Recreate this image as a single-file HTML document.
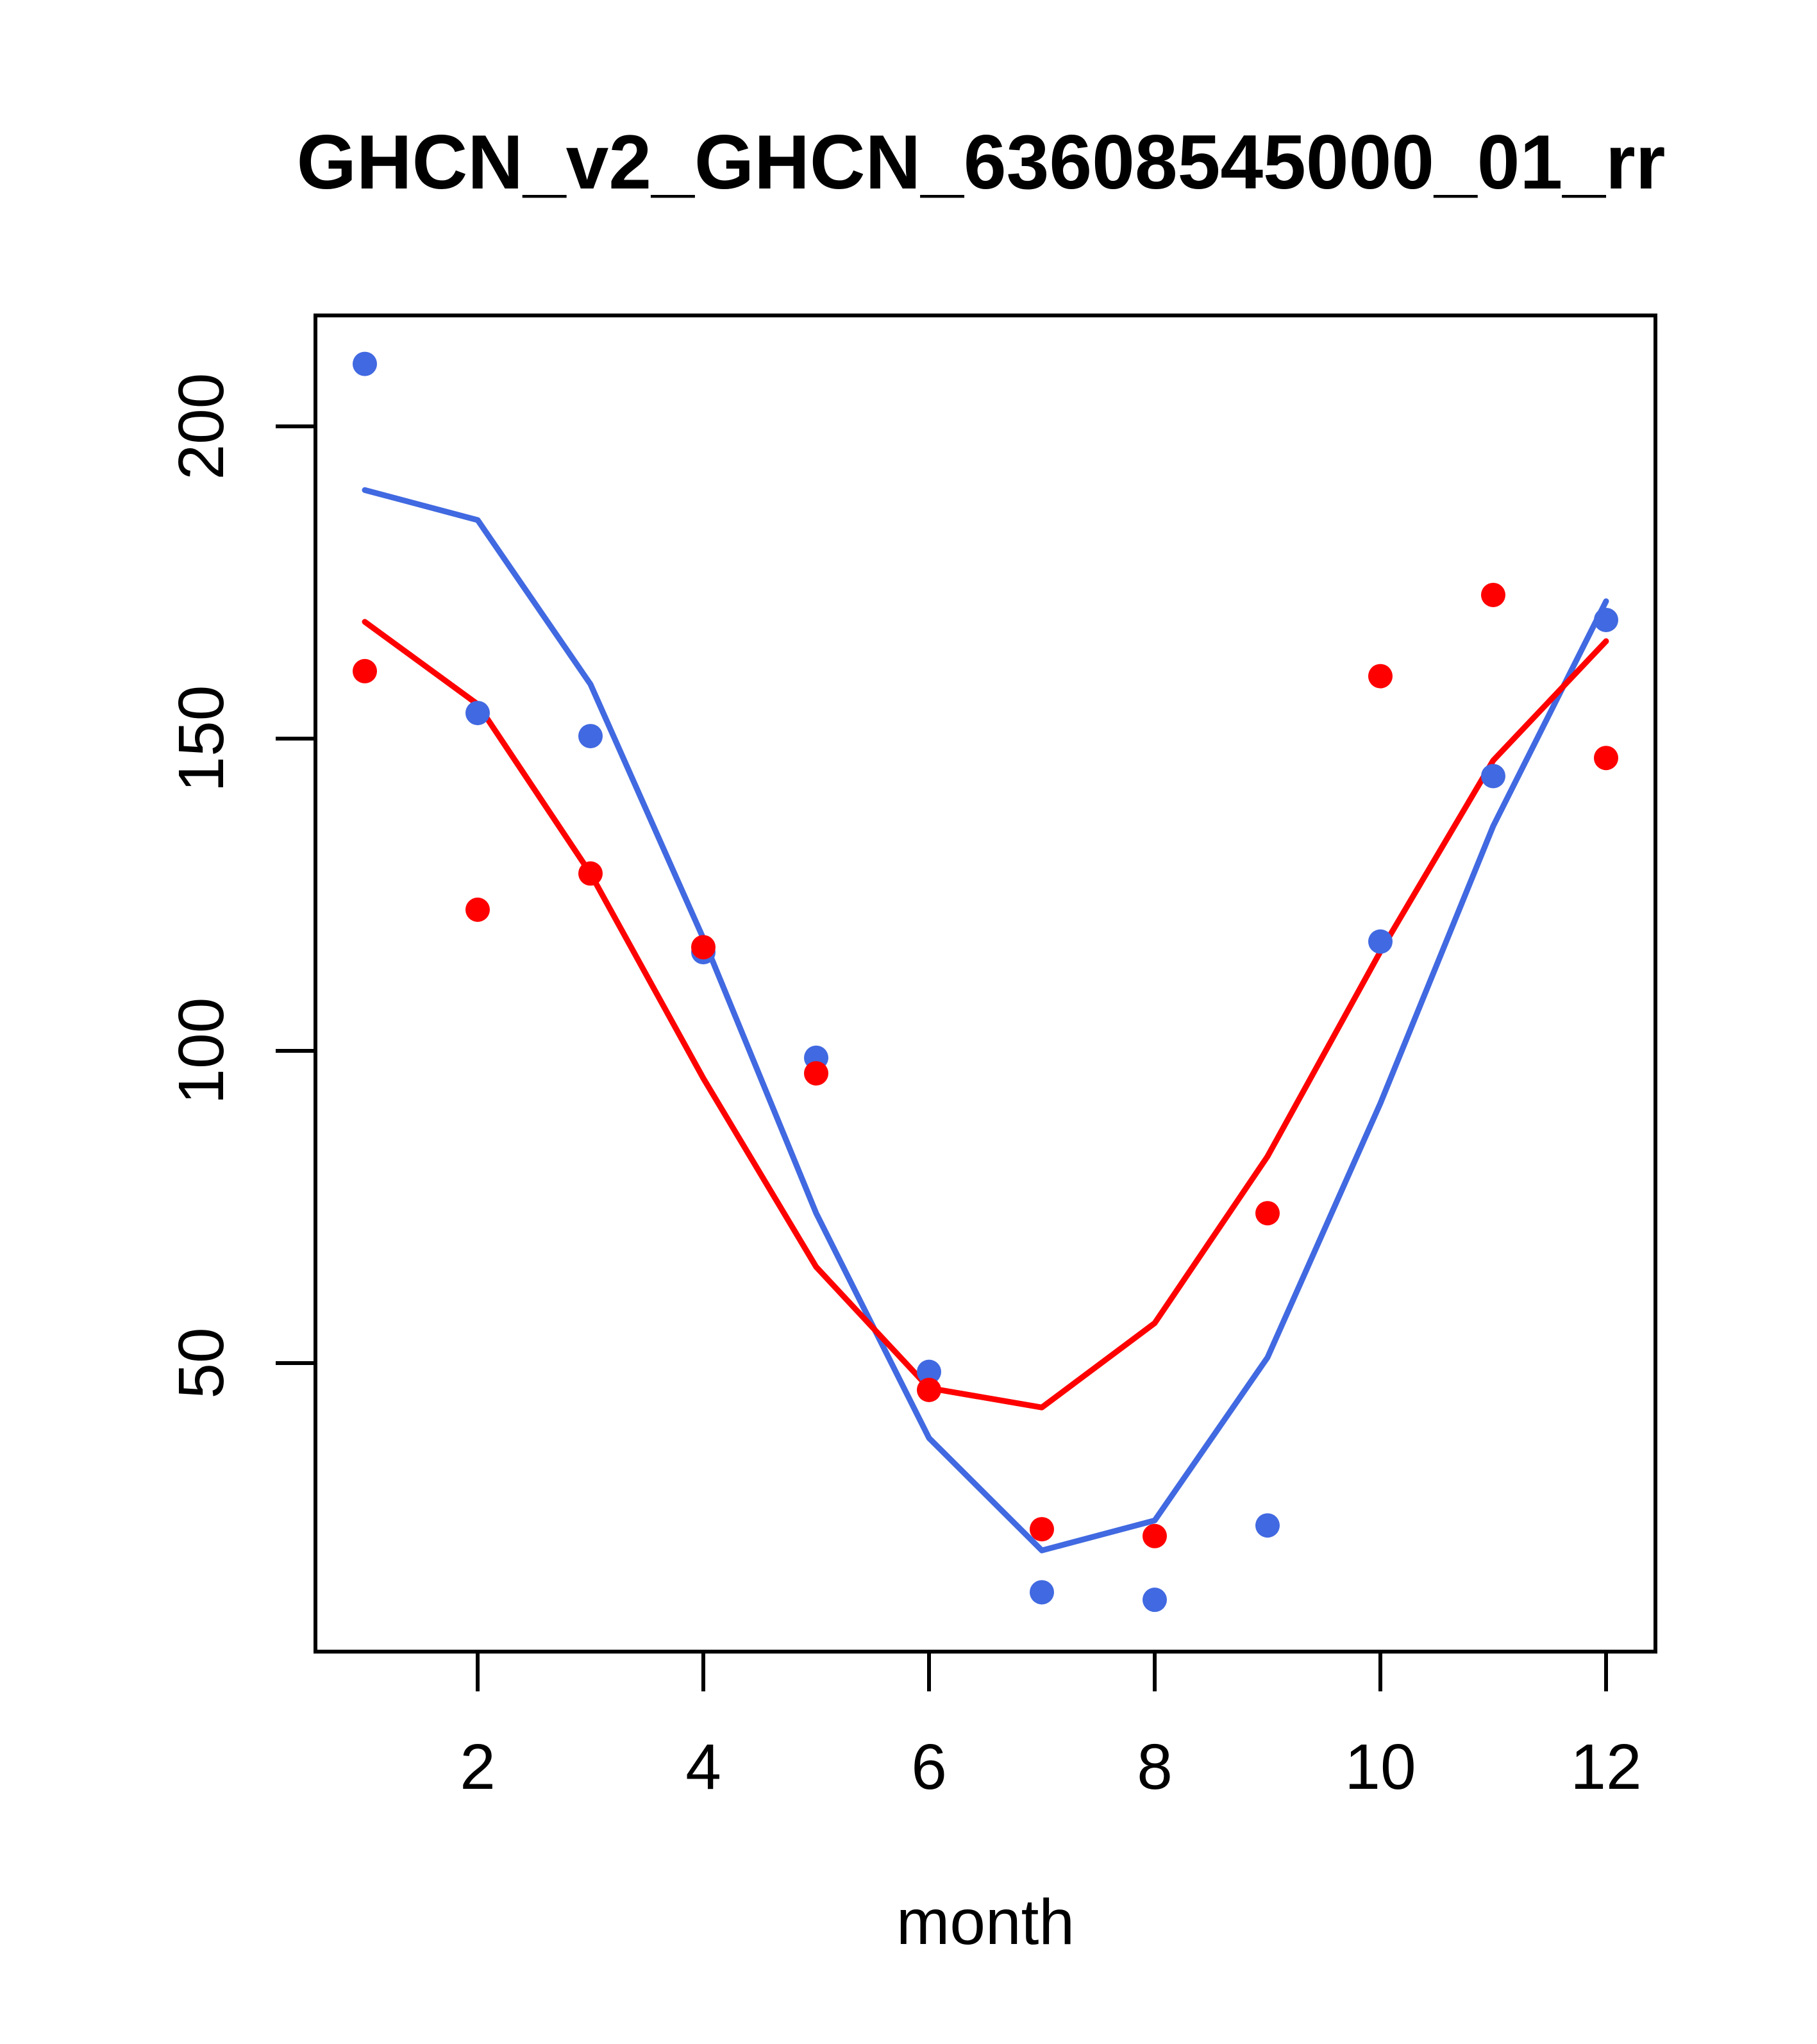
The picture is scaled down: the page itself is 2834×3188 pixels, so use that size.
<!DOCTYPE html>
<html><head><meta charset="utf-8"><style>body{margin:0;background:#fff}svg{display:block}text{font-family:"Liberation Sans",sans-serif}</style></head>
<body>
<svg width="2834" height="3188" viewBox="0 0 2834 3188">
<text x="1530" y="294" font-size="120" font-weight="bold" text-anchor="middle">GHCN_v2_GHCN_63608545000_01_rr</text>
<rect x="492" y="492" width="2090" height="2084" fill="none" stroke="#000" stroke-width="6"/>
<g id="xaxis"></g>
<g id="yaxis"></g>
<text x="1537" y="3032" font-size="100" text-anchor="middle">month</text>
<g id="marks"></g>
</svg>
<script>
const months=[1,2,3,4,5,6,7,8,9,10,11,12];
const bluePoints=[210,154.1,150.4,115.8,98.9,48.6,13.3,12.1,24,117.5,144,169];
const redPoints=[160.8,122.6,128.4,116.6,96.4,45.7,23.4,22.3,74,160,173,146.9];
const blueLine=[189.8,185,158.7,118,74,38,20,24.8,50.9,91.6,136,172];
const redLine=[168.7,155.5,128.4,95.6,65.4,46,42.9,56.4,83.1,115.9,146.5,165.6];
const xTicks=[2,4,6,8,10,12];
const yTicks=[50,100,150,200];
const NS="http://www.w3.org/2000/svg";
function X(m){return 569+(m-1)*176;}
function Y(v){return 665+(200-v)*487/50;}
function mk(tag,attrs,parent){const e=document.createElementNS(NS,tag);for(const k in attrs)e.setAttribute(k,attrs[k]);parent.appendChild(e);return e;}
const xa=document.getElementById('xaxis'),ya=document.getElementById('yaxis'),mg=document.getElementById('marks');
xTicks.forEach(t=>{
 const l=mk('line',{x1:X(t),x2:X(t),y1:2576,y2:2638,stroke:'#000','stroke-width':6},xa);
 
 
 const tx=mk('text',{x:X(t),y:2790,'font-size':100,'text-anchor':'middle'},xa);
 tx.textContent=t;
 
 
});
yTicks.forEach(t=>{
 const l=mk('line',{x1:430,x2:492,y1:Y(t),y2:Y(t),stroke:'#000','stroke-width':6},ya);
 
 
 const tx=mk('text',{x:348,y:Y(t),'font-size':100,'text-anchor':'middle',transform:`rotate(-90 348 ${Y(t)})`},ya);
 tx.textContent=t;
 
 
});
function line(vals,color,name){
 const p=mk('polyline',{points:vals.map((v,i)=>X(months[i])+','+Y(v)).join(' '),fill:'none',stroke:color,'stroke-width':9,'stroke-linecap':'round','stroke-linejoin':'round'},mg);
 
 
}
function pts(vals,color,name){
 vals.forEach((v,i)=>{
  const c=mk('circle',{cx:X(months[i]),cy:Y(v),r:19,fill:color},mg);
  
  
 });
}
line(blueLine,'#4169e1','blue-line');
line(redLine,'#ff0000','red-line');
pts(bluePoints,'#4169e1','blue-point');
pts(redPoints,'#ff0000','red-point');
</script>
</body></html>
